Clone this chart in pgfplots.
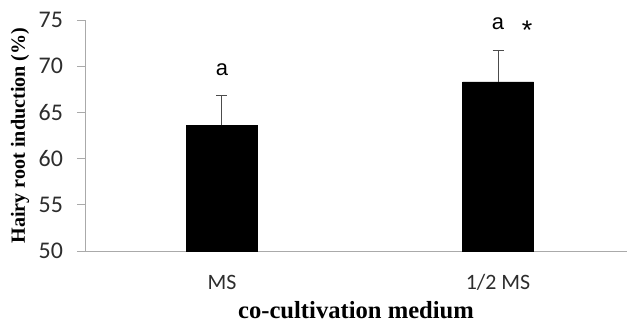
\documentclass[border=0pt]{standalone}
\usepackage{pgfplots}
\pgfplotsset{compat=1.18}
\usepackage{fontspec}
\setmainfont{Carlito}
\newfontfamily\timesfont{Liberation Serif}
\newfontfamily\arialfont{Liberation Sans}
\definecolor{axgray}{RGB}{170,170,170}
\definecolor{txt}{RGB}{45,45,45}
\begin{document}
\begin{tikzpicture}
\begin{axis}[
  at={(0,0)}, anchor=south west,
  scale only axis,
  width=542bp, height=231bp,
  xmin=-0.496, xmax=1.467,
  ymin=50, ymax=75,
  ytick={50,55,...,75},
  xtick={0,1},
  xticklabels={MS,1/2 MS},
  axis lines*=left,
  axis line style={axgray, line width=0.9bp},
  y axis line style={-},
  x axis line style={-},
  major tick length=8bp,
  ytick style={axgray, line width=0.9bp},
  xtick style={draw=none},
  tick align=outside,
  /pgf/number format/assume math mode=true,
  ticklabel style={font=\fontsize{24}{26}\selectfont, text=txt},
  yticklabel style={xshift=-10.5bp},
  xticklabel style={font=\fontsize{22}{24}\selectfont, anchor=center, yshift=-23.5bp},
  ylabel={\timesfont\bfseries Hairy root induction (\%)},
  ylabel style={font=\fontsize{20.2}{22}\selectfont, anchor=center, at={([xshift=-65bp]axis description cs:0,0.5)}},
  xlabel={\timesfont\bfseries co-cultivation medium},
  xlabel style={font=\fontsize{24.7}{26}\selectfont, anchor=center, at={([yshift=-59bp]axis description cs:0.5,0)}},
  clip=false,
]
\addplot[ybar, bar width=71bp, fill=black, draw=black,
  error bars/.cd, y dir=plus, y explicit,
  error bar style={black!70, line width=1bp},
  error mark options={rotate=90, mark size=5.5bp, black!70, line width=1bp}]
  coordinates {(0,63.6) +- (0,3.2) (1,68.3) +- (0,3.35)};
\node[font=\arialfont\fontsize{22}{24}\selectfont] at (axis cs:0,69.6) {a};
\node[font=\arialfont\fontsize{22}{24}\selectfont] at (axis cs:1,74.6) {a};
\node[font=\arialfont\fontsize{27}{29}\selectfont] at (axis cs:1.105,73.9) {*};
\end{axis}
\pgfresetboundingbox
\path (-85bp,-76bp) rectangle (542bp,251bp);
\end{tikzpicture}
\end{document}
